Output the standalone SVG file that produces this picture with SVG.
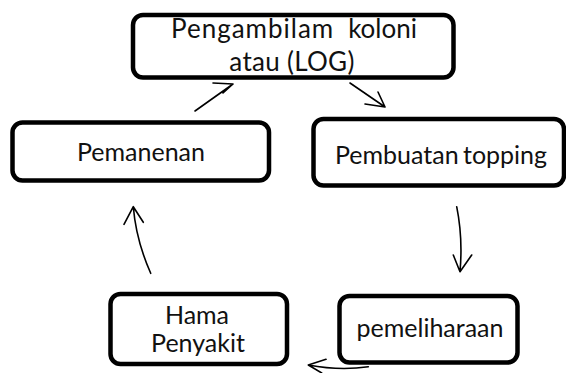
<svg xmlns="http://www.w3.org/2000/svg" width="566" height="373" viewBox="0 0 566 373">
<style>
.box{fill:#fff;stroke:#000;stroke-width:4.5}
.t{font-family:Lato,"Open Sans",sans-serif;font-size:25px;fill:#111;text-anchor:middle}
.c{fill:none;stroke:#000;stroke-width:1.6;stroke-linecap:round;stroke-linejoin:round}
</style>
<rect width="566" height="373" fill="#fff"/>
<g id="n1">
<rect class="box" x="133" y="15" width="320.5" height="62.5" rx="10"/>
<text class="t" x="171" y="38" style="text-anchor:start;font-size:26px" letter-spacing="1">Pengambilam</text>
<text class="t" x="417" y="38" style="text-anchor:end;font-size:26px">koloni</text>
<text class="t" x="292" y="71" style="font-size:26px" letter-spacing="0.3">atau (LOG)</text>
</g>
<g id="n2">
<rect class="box" x="313.5" y="119" width="250.5" height="66.5" rx="10"/>
<text class="t" x="441" y="164" word-spacing="-2">Pembuatan topping</text>
</g>
<g id="n3">
<rect class="box" x="339.5" y="296" width="178" height="66.5" rx="10"/>
<text class="t" x="430" y="337">pemeliharaan</text>
</g>
<g id="n4">
<rect class="box" x="110.5" y="294" width="176.5" height="70" rx="10"/>
<text class="t" x="197" y="324">Hama</text>
<text class="t" x="198" y="352">Penyakit</text>
</g>
<g id="n5">
<rect class="box" x="12.5" y="122.5" width="256.5" height="58" rx="10"/>
<text class="t" x="141" y="161">Pemanenan</text>
</g>
<g id="connectors">
<path class="c" d="M195,111 L233,84 M213,83 L233,84 L223,93"/>
<path class="c" d="M350,83 L385,107 M378,92 L385,107 L365,104"/>
<path class="c" d="M456.7,206.7 Q463,238 460,271.7 M453.3,255 L460,271.7 L471.7,255"/>
<path class="c" d="M368.3,366.7 Q340,371 308.3,365 M326,359.3 L308.3,365 L321.7,373"/>
<path class="c" d="M150.7,273.3 Q136,240 133.3,206.7 M124,224.3 L133.3,206.7 L143.3,222.3"/>
</g>
</svg>
